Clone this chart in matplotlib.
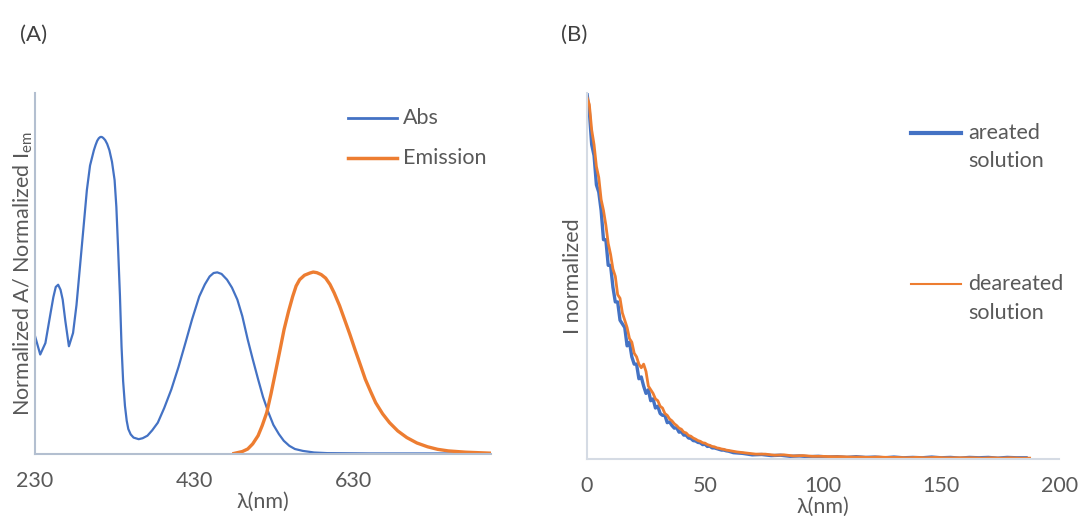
import numpy as np
import matplotlib.pyplot as plt

plt.rcParams['font.family'] = ['Lato', 'DejaVu Sans']
plt.rcParams['mathtext.fontset'] = 'custom'
plt.rcParams['mathtext.rm'] = 'Lato'

#%% data

# (A) absorption spectrum
abs_nm = [230, 236.5, 243, 249.5, 253, 256, 259, 262, 264.7, 268, 272.5, 277.7, 282, 286.4,
          291, 295, 299, 303.8, 306, 308, 310, 312, 313.7, 315.5, 318, 320.5, 323.3, 326.5,
          329.8, 332, 334.1, 336.5, 338.5, 340.5, 342.8, 345, 347, 350, 353.6, 360, 365, 371,
          377, 384, 392, 401, 410, 418.7, 427, 436, 443, 449, 454, 458.6, 464, 470.8, 477,
          483.8, 490, 496.8, 503, 509.8, 516, 522.8, 529, 535.9, 542, 549, 556, 566, 580,
          596.6, 650, 700, 750, 800]
abs_val = [0.372, 0.314, 0.350, 0.445, 0.495, 0.527, 0.534, 0.518, 0.487, 0.420, 0.340, 0.382, 0.470, 0.592,
           0.720, 0.832, 0.910, 0.958, 0.975, 0.988, 0.996, 1.000, 1.000, 0.997, 0.990, 0.978, 0.958, 0.922,
           0.864, 0.780, 0.654, 0.500, 0.340, 0.230, 0.152, 0.105, 0.079, 0.062, 0.052, 0.047, 0.050, 0.058,
           0.075, 0.099, 0.145, 0.204, 0.275, 0.351, 0.425, 0.497, 0.535, 0.560, 0.571, 0.573, 0.568, 0.550,
           0.525, 0.487, 0.435, 0.361, 0.300, 0.236, 0.180, 0.131, 0.092, 0.063, 0.042, 0.026, 0.016, 0.010,
           0.005, 0.003, 0.002, 0.002, 0.002, 0.002]

# (A) emission spectrum
em_nm = [479.5, 490, 496.8, 503, 509.8, 515, 520.7, 526, 531.5, 537, 542.4, 548, 553.2, 557.5,
         561.9, 568, 574.9, 579, 583.6, 589, 594.5, 600, 605.3, 612, 618.3, 625, 631.3, 638,
         644.3, 651, 657.3, 666, 674.7, 685, 696.4, 709, 722.4, 735, 748.4, 770, 800]
em_val = [0.002, 0.008, 0.016, 0.032, 0.058, 0.090, 0.131, 0.190, 0.257, 0.325, 0.393, 0.450, 0.497, 0.530,
          0.550, 0.564, 0.571, 0.574, 0.572, 0.566, 0.555, 0.535, 0.508, 0.468, 0.424, 0.377, 0.330, 0.282,
          0.236, 0.197, 0.162, 0.127, 0.099, 0.073, 0.052, 0.035, 0.023, 0.015, 0.010, 0.006, 0.003]

# (B) decay curves, 1 unit steps up to 60 then 4 unit steps
decay_head_x = np.arange(0, 61, 1)
decay_tail_x = np.arange(62, 190, 4)

areated_head = [1.00, 0.95, 0.86, 0.83, 0.75, 0.73, 0.68, 0.60, 0.60, 0.53, 0.53, 0.47, 0.43, 0.43,
                0.38, 0.37, 0.36, 0.31, 0.32, 0.28, 0.26, 0.26, 0.22, 0.225, 0.20, 0.18, 0.19, 0.16,
                0.165, 0.14, 0.145, 0.125, 0.12, 0.12, 0.10, 0.102, 0.092, 0.085, 0.086, 0.074, 0.075,
                0.066, 0.066, 0.058, 0.057, 0.051, 0.050, 0.046, 0.045, 0.040, 0.041, 0.035, 0.036,
                0.031, 0.031, 0.029, 0.027, 0.025, 0.025, 0.023, 0.022]
areated_tail = [0.018, 0.016, 0.012, 0.013, 0.010, 0.011, 0.008, 0.009, 0.007, 0.008, 0.006, 0.007,
                0.005, 0.007, 0.005, 0.006, 0.004, 0.006, 0.004, 0.005, 0.004, 0.006, 0.004, 0.005,
                0.003, 0.005, 0.004, 0.005, 0.003, 0.005, 0.004, 0.004]

deareated_head = [0.99, 0.97, 0.90, 0.86, 0.80, 0.77, 0.71, 0.68, 0.64, 0.59, 0.56, 0.52, 0.50, 0.45,
                  0.44, 0.40, 0.38, 0.36, 0.33, 0.32, 0.29, 0.28, 0.26, 0.25, 0.26, 0.24, 0.20, 0.19,
                  0.18, 0.165, 0.16, 0.145, 0.14, 0.125, 0.12, 0.11, 0.105, 0.097, 0.092, 0.085, 0.082,
                  0.074, 0.072, 0.065, 0.063, 0.058, 0.055, 0.051, 0.049, 0.045, 0.044, 0.040, 0.038,
                  0.035, 0.034, 0.031, 0.030, 0.028, 0.027, 0.025, 0.024]
deareated_tail = [0.020, 0.017, 0.014, 0.014, 0.011, 0.012, 0.009, 0.010, 0.008, 0.008, 0.007, 0.007,
                  0.006, 0.006, 0.005, 0.006, 0.005, 0.005, 0.004, 0.005, 0.004, 0.005, 0.004, 0.004,
                  0.004, 0.004, 0.003, 0.004, 0.003, 0.004, 0.003, 0.003]

#%% styling

blue = '#4472C4'
orange = '#ED7D31'
txt = '#595959'
fs = 15.5

fig = plt.figure(figsize=(10.78, 5.16), dpi=100)
axA = fig.add_axes([0.0325, 0.120, 0.423, 0.700])
axB = fig.add_axes([0.5445, 0.110, 0.438, 0.709])


def style_axes(ax, spine_color):
    for s in ['top', 'right']:
        ax.spines[s].set_visible(False)
    for s in ['left', 'bottom']:
        ax.spines[s].set_color(spine_color)
        ax.spines[s].set_linewidth(1.5)
    ax.set_yticks([])
    ax.tick_params(axis='x', length=0, pad=12, labelsize=fs, labelcolor=txt)


def legend_entry(ax, x, y, color, lw, lines, gap=0.079):
    # legend line + text (one text per line) in axes fraction
    ax.plot([x, x + 0.107], [y, y], color=color, lw=lw, transform=ax.transAxes, clip_on=False)
    for i, s in enumerate(lines):
        ax.text(x + 0.121, y - i * gap, s, transform=ax.transAxes, fontsize=fs, color=txt,
                va='center', ha='left')


#%% (A)
axA.plot(abs_nm, abs_val, color=blue, lw=1.6)
axA.plot(em_nm, em_val, color=orange, lw=2.4)
axA.set_xlim(230, 802)
axA.set_ylim(0, 1.139)
axA.set_xticks([230, 430, 630])
style_axes(axA, '#b3bfd0')
axA.set_xlabel('λ(nm)', fontsize=fs, color=txt, labelpad=1)
axA.set_ylabel('Normalized A/ Normalized I$_{\\rm em}$', fontsize=fs, color=txt, labelpad=0)
legend_entry(axA, 0.686, 0.930, blue, 2.0, ['Abs'])
legend_entry(axA, 0.686, 0.819, orange, 2.5, ['Emission'])
fig.text(0.031, 0.933, '(A)', fontsize=16, color='#404040', ha='center', va='center')

#%% (B)
axB.plot(np.concatenate([decay_head_x, decay_tail_x]), areated_head + areated_tail,
         color=blue, lw=2.4)
axB.plot(np.concatenate([decay_head_x, decay_tail_x + 1.5]), deareated_head + deareated_tail,
         color=orange, lw=2.0)
axB.set_xlim(0, 200)
axB.set_ylim(0, 1.0)
axB.set_xticks([0, 50, 100, 150, 200])
style_axes(axB, '#d5dbe4')
axB.set_xlabel('λ(nm)', fontsize=fs, color=txt, labelpad=1)
axB.set_ylabel('I normalized', fontsize=fs, color=txt, labelpad=3)
legend_entry(axB, 0.686, 0.893, blue, 3.0, ['areated', 'solution'])
legend_entry(axB, 0.686, 0.478, orange, 1.5, ['deareated', 'solution'])
fig.text(0.533, 0.933, '(B)', fontsize=16, color='#404040', ha='center', va='center')

fig.savefig('out.png', dpi=100)
